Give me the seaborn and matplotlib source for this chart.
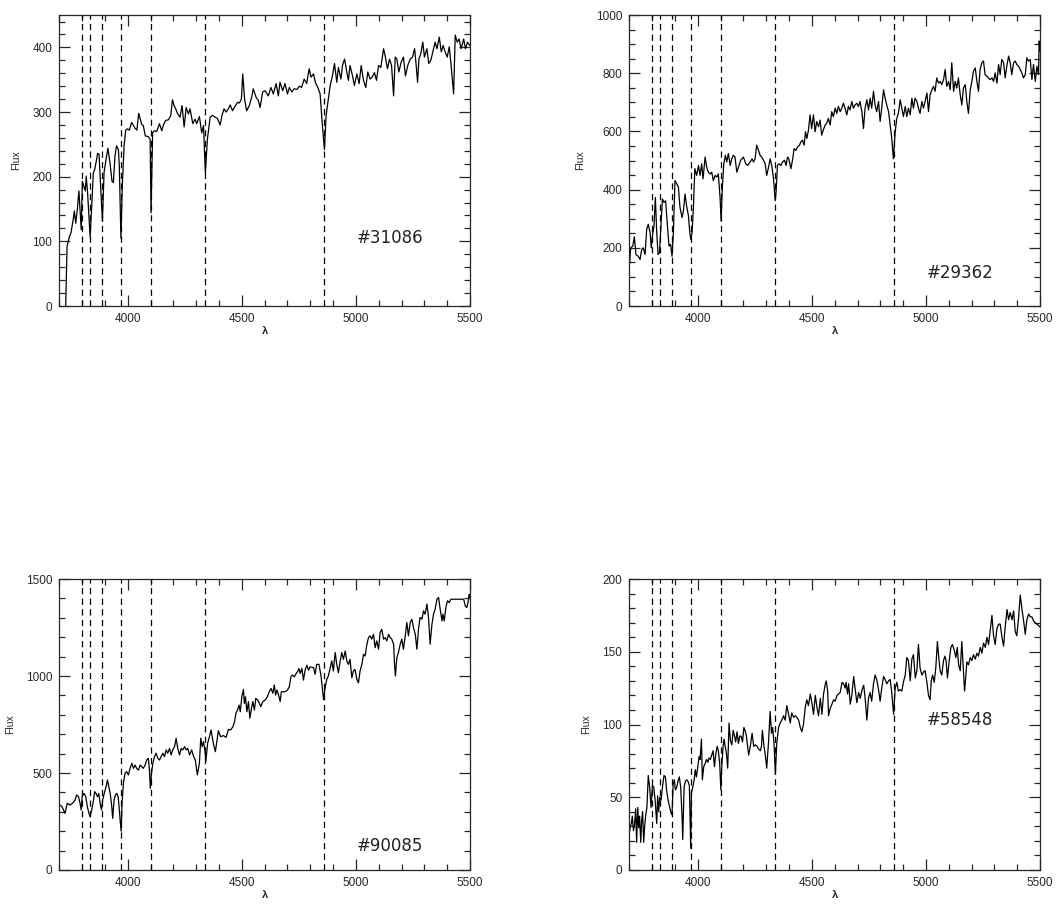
import numpy as np
import pandas as pd
import seaborn as sns
import matplotlib.pyplot as plt
from matplotlib.ticker import MultipleLocator

# Balmer lines marked in every panel
balmer = [3797.9, 3835.4, 3889.1, 3970.1, 4101.7, 4340.5, 4861.3]

# spectrum #31086
wave_31086 = [3728, 3734, 3744, 3751, 3761, 3766, 3772, 3779, 3786, 3791, 3796, 3801, 3808, 3814, 3818,
              3824, 3830, 3835, 3842, 3849, 3855, 3861, 3868, 3874, 3881, 3889, 3896, 3905, 3913, 3922,
              3931, 3937, 3944, 3951, 3959, 3963, 3970, 3976, 3984, 3991, 3999, 4007, 4017, 4032, 4040,
              4048, 4061, 4068, 4077, 4090, 4098, 4102, 4109, 4117, 4127, 4139, 4149, 4156, 4166, 4178,
              4188, 4196, 4203, 4210, 4219, 4229, 4238, 4247, 4256, 4266, 4273, 4285, 4295, 4302, 4314,
              4324, 4332, 4340, 4349, 4361, 4371, 4383, 4393, 4405, 4413, 4422, 4431, 4441, 4449, 4459,
              4470, 4481, 4489, 4498, 4504, 4512, 4521, 4533, 4543, 4550, 4562, 4572, 4580, 4591, 4602,
              4616, 4627, 4638, 4650, 4660, 4667, 4679, 4689, 4700, 4708, 4719, 4729, 4741, 4752, 4762,
              4773, 4784, 4795, 4803, 4814, 4822, 4833, 4843, 4853, 4862, 4869, 4879, 4887, 4897, 4906,
              4916, 4923, 4934, 4941, 4950, 4960, 4967, 4974, 4985, 4993, 5004, 5014, 5023, 5033, 5043,
              5052, 5062, 5071, 5081, 5090, 5099, 5109, 5121, 5129, 5138, 5147, 5156, 5165, 5172, 5179,
              5188, 5198, 5208, 5217, 5227, 5238, 5248, 5257, 5264, 5270, 5276, 5284, 5293, 5300, 5311,
              5319, 5328, 5337, 5347, 5355, 5365, 5374, 5382, 5391, 5400, 5409, 5417, 5428, 5435, 5444,
              5452, 5461, 5472, 5480, 5489, 5499]
flux_31086 = [0, 92, 107, 113, 134, 147, 128, 149, 178, 149, 118, 193, 185, 178, 201,
              175, 139, 107, 154, 206, 211, 222, 236, 235, 185, 131, 206, 227, 244, 222,
              193, 191, 232, 248, 242, 217, 105, 185, 248, 272, 274, 272, 284, 275, 272,
              298, 281, 279, 263, 262, 258, 144, 268, 271, 270, 282, 271, 280, 287, 288,
              294, 319, 310, 305, 297, 292, 310, 277, 307, 297, 305, 282, 289, 282, 293,
              268, 279, 206, 258, 292, 295, 292, 290, 280, 295, 305, 300, 305, 311, 302,
              309, 315, 314, 320, 359, 320, 302, 310, 323, 336, 323, 318, 307, 331, 333,
              325, 338, 328, 344, 325, 346, 333, 344, 328, 338, 331, 336, 335, 340, 338,
              351, 344, 367, 354, 359, 346, 338, 328, 279, 242, 294, 320, 341, 356, 375,
              346, 369, 351, 372, 382, 362, 349, 372, 356, 341, 359, 344, 372, 349, 338,
              362, 351, 354, 361, 349, 372, 369, 398, 385, 367, 382, 372, 325, 385, 382,
              362, 377, 385, 356, 372, 382, 385, 398, 372, 346, 382, 390, 408, 385, 398,
              375, 380, 393, 408, 398, 416, 393, 403, 393, 385, 401, 372, 328, 419, 408,
              413, 398, 413, 398, 408, 403]

# spectrum #29362
wave_29362 = [3700, 3706, 3715, 3722, 3729, 3739, 3747, 3754, 3761, 3769, 3776, 3783, 3791, 3796, 3802,
              3808, 3814, 3820, 3826, 3832, 3837, 3845, 3852, 3859, 3867, 3874, 3881, 3887, 3893, 3900,
              3908, 3915, 3922, 3931, 3937, 3944, 3951, 3959, 3965, 3969, 3975, 3981, 3987, 3995, 4003,
              4010, 4017, 4023, 4032, 4039, 4046, 4054, 4061, 4068, 4076, 4083, 4090, 4098, 4102, 4108,
              4114, 4121, 4127, 4134, 4142, 4149, 4156, 4163, 4171, 4178, 4188, 4200, 4210, 4219, 4229,
              4238, 4244, 4251, 4258, 4266, 4273, 4280, 4288, 4295, 4302, 4310, 4317, 4324, 4332, 4339,
              4343, 4349, 4356, 4364, 4371, 4380, 4387, 4393, 4399, 4408, 4416, 4422, 4430, 4437, 4446,
              4451, 4459, 4466, 4472, 4478, 4485,
              4492, 4499, 4507, 4514, 4521, 4529, 4536, 4543, 4550, 4558, 4565, 4572, 4580, 4587, 4594,
              4602, 4609, 4616, 4624, 4631, 4638, 4645, 4653, 4660, 4667, 4675, 4682, 4689, 4697, 4704,
              4711, 4719, 4726, 4733, 4741, 4748, 4755, 4762, 4770, 4777, 4784, 4792, 4799, 4806, 4814,
              4821, 4828, 4836, 4843, 4850, 4857, 4865, 4872, 4879, 4887, 4894, 4901, 4909, 4916, 4923,
              4931, 4938, 4945, 4952, 4960, 4967, 4974, 4982, 4989, 4996, 5004, 5011, 5018, 5026, 5033,
              5040, 5047, 5055, 5062, 5069, 5077, 5084, 5091, 5099, 5106, 5113, 5121, 5128, 5135, 5142,
              5150, 5157, 5164, 5172, 5179, 5186, 5194, 5201, 5208, 5216, 5223, 5230, 5237, 5245, 5252,
              5259, 5267, 5274, 5281, 5289, 5296, 5303, 5311, 5318, 5325, 5332, 5340, 5347, 5354, 5362,
              5369, 5376, 5384, 5391, 5398, 5406, 5413, 5420, 5427, 5435, 5442, 5449, 5457, 5464, 5471,
              5479, 5486, 5493, 5496, 5500]
flux_29362 = [136, 200, 206, 238, 177, 171, 160, 194, 200, 177, 264, 281, 252, 200, 246,
              275, 373, 252, 177, 183, 252, 368, 356, 362, 275, 206, 212, 171, 252, 431,
              420, 408, 339, 304, 327, 385, 344, 310, 252, 229, 252, 344, 472, 449, 483,
              449, 489, 437, 512, 477, 460, 454, 460, 431, 449, 443, 454, 368, 292, 414,
              489, 518, 495, 524, 483, 506, 518, 512, 460, 477, 501, 512, 489, 483, 495,
              506, 495, 506, 553, 535, 518, 512, 501, 489, 449, 477, 506, 483, 437, 362,
              391, 483, 489, 483, 495, 501, 483, 512, 506, 472, 506, 541, 535, 547, 553,
              564, 570, 553, 599, 576, 605,
              657, 610, 657, 599, 634, 616, 639, 587, 605, 622, 628, 645, 622, 668, 651,
              680, 662, 686, 668, 680, 697, 680, 657, 686, 674, 703, 680, 691, 697, 686,
              703, 668, 610, 680, 709, 674, 714, 680, 738, 691, 668, 703, 634, 680, 743,
              714, 691, 668, 622, 576, 506, 599, 645, 662, 709, 680, 651, 686, 651, 680,
              657, 714, 680, 714, 703, 680, 662, 703, 680, 703, 732, 668, 726, 743, 755,
              738, 784, 766, 772, 761, 778, 813, 755, 772, 743, 836, 738, 772, 749, 784,
              726, 691, 749, 761, 703, 662, 743, 772, 807, 818, 772, 738, 813, 836, 842,
              795, 790, 784, 778, 784, 772, 801, 766, 830, 795, 847, 836, 784, 824, 859,
              836, 795, 836, 842, 830, 824, 813, 801, 784, 795, 853, 842, 847, 778, 830,
              772, 824, 795, 911, 876]

# spectrum #90085
wave_90085 = [3703, 3712, 3725, 3735, 3747, 3758, 3769, 3776, 3784, 3791, 3796, 3800, 3808, 3816, 3823,
              3830, 3835, 3842, 3850, 3855, 3861, 3867, 3873, 3879, 3885, 3890, 3897, 3905, 3911, 3917,
              3923, 3930, 3934, 3940, 3946, 3952, 3958, 3962, 3966, 3971, 3975, 3981, 3988, 3995, 4003,
              4010, 4018, 4025, 4032, 4039, 4047, 4054, 4061, 4068, 4076, 4083, 4090, 4095, 4099, 4104,
              4110, 4117, 4124, 4132, 4139, 4146, 4154, 4161, 4168, 4175, 4183, 4190, 4197, 4205, 4212,
              4219, 4227, 4234, 4241, 4249, 4256, 4263, 4271, 4280, 4289, 4296, 4305, 4314, 4320, 4326,
              4332, 4338, 4342, 4350, 4358, 4365, 4375, 4384, 4390, 4397, 4407, 4419, 4431, 4441, 4451,
              4461, 4468, 4474, 4481, 4488, 4493, 4500, 4507, 4511, 4516, 4522, 4529, 4535, 4541, 4548,
              4555, 4561, 4570, 4577, 4583, 4592, 4602, 4612, 4620, 4628, 4636, 4642, 4648, 4654, 4661,
              4668, 4673, 4680, 4690, 4700, 4708, 4715, 4722, 4730, 4738, 4744, 4750, 4756, 4763, 4770,
              4777, 4785, 4792, 4799, 4814, 4821, 4828, 4838, 4847, 4858, 4865, 4872, 4879, 4887, 4894,
              4901, 4909, 4916, 4923, 4931, 4938, 4945, 4953, 4960, 4967, 4974, 4982, 4989, 4996, 5004,
              5011, 5018, 5026, 5033, 5040, 5048, 5055, 5062, 5069, 5077, 5084, 5091, 5099, 5106, 5113,
              5121, 5128, 5135, 5143, 5150, 5157, 5165, 5169, 5173, 5179, 5186, 5194, 5201, 5208, 5216,
              5223, 5230, 5238, 5245, 5252, 5260, 5267, 5274, 5281, 5289, 5296, 5303, 5311, 5318, 5325,
              5333, 5340, 5347, 5355, 5362, 5369, 5377, 5381, 5387, 5394, 5401, 5409, 5416, 5423, 5435,
              5450, 5464, 5472, 5479, 5486, 5491, 5496, 5500]
flux_90085 = [335, 326, 292, 344, 335, 344, 361, 387, 378, 344, 309, 378, 395, 378, 326,
              292, 275, 309, 361, 404, 395, 378, 395, 344, 309, 361, 395, 429, 464, 429,
              395, 326, 266, 361, 387, 395, 378, 326, 266, 200, 344, 447, 498, 507, 490,
              524, 550, 524, 541, 524, 515, 541, 533, 524, 541, 567, 576, 515, 421, 498,
              550, 584, 602, 576, 567, 584, 602, 584, 619, 602, 627, 593, 619, 636, 679,
              627, 593, 627, 619, 636, 619, 627, 593, 619, 584, 567, 490, 551, 680, 636,
              661, 619, 558, 653, 687, 722, 653, 610, 661, 718, 687, 693, 684, 725, 722,
              739, 764, 808, 825, 850, 816, 893, 931, 859, 893, 816, 868, 782, 825, 868,
              825, 885, 876, 859, 842, 868, 876, 893, 919, 936, 911, 954, 902, 928, 902,
              868, 919, 919, 919, 928, 945, 996, 1005, 996, 1013, 1022, 1039, 1013, 1039, 979,
              1030, 1056, 1030, 1047, 1043, 1009, 1060, 1060, 1000, 879, 940, 983, 1000, 1043, 1078,
              1026, 1121, 1060, 1017, 1078, 1121, 1086, 1129, 1078, 1060, 1086, 991, 1026, 1034, 983,
              965, 1026, 1060, 1112, 1103, 1164, 1198, 1207, 1190, 1215, 1146, 1181, 1138, 1224, 1241,
              1190, 1198, 1181, 1215, 1198, 1190, 1164, 1060, 1000, 1095, 1121, 1164, 1190, 1138, 1207,
              1276, 1207, 1276, 1293, 1250, 1215, 1138, 1241, 1302, 1293, 1336, 1319, 1371, 1302, 1164,
              1267, 1319, 1345, 1396, 1405, 1345, 1284, 1319, 1284, 1353, 1388, 1379, 1396, 1396, 1396,
              1396, 1396, 1396, 1362, 1353, 1379, 1422, 1405]

# spectrum #58548
wave_58548 = [3700, 3704, 3709, 3713, 3718, 3722, 3728, 3732, 3737, 3741, 3745, 3750, 3754, 3758, 3763,
              3767, 3772, 3777, 3783, 3789, 3795, 3801, 3807, 3813, 3820, 3824, 3829, 3833, 3839, 3845,
              3852, 3858, 3864, 3871, 3877, 3883, 3887, 3892, 3897, 3902, 3908, 3913, 3919, 3925, 3931,
              3934, 3940, 3946, 3951, 3957, 3963, 3969, 3972, 3978, 3984, 3989, 3994, 4000, 4006, 4010,
              4016, 4020, 4026, 4032, 4038, 4044, 4049, 4055, 4061, 4067, 4073, 4079, 4085, 4090, 4096,
              4101, 4105, 4111, 4115, 4120, 4125, 4131, 4137, 4143, 4149, 4155, 4161, 4166, 4172, 4178,
              4184, 4190, 4196, 4202, 4207, 4213, 4223, 4230, 4238, 4245, 4252, 4260, 4267, 4274, 4279,
              4283, 4290, 4296, 4302, 4310, 4317, 4323, 4328, 4334, 4340, 4346, 4354, 4361, 4368, 4376,
              4383, 4390, 4398, 4405, 4412, 4420, 4427, 4434, 4442, 4449, 4456, 4463, 4471, 4478, 4485,
              4493, 4500, 4507, 4515, 4522, 4529, 4537, 4544, 4551, 4559, 4563, 4569, 4573, 4580, 4588,
              4595, 4602, 4610, 4617, 4624, 4632, 4639, 4646, 4650, 4656, 4661, 4668, 4675, 4683, 4690,
              4697, 4705, 4712, 4720, 4727, 4734, 4741, 4748, 4755, 4762, 4770, 4777, 4784, 4792, 4799,
              4806, 4814, 4821, 4828, 4836, 4843, 4850, 4858, 4865, 4872, 4879, 4887, 4894, 4901, 4909,
              4916, 4923, 4931, 4938, 4945, 4953, 4960, 4967, 4974, 4982, 4989, 4996, 5004, 5011, 5018,
              5023, 5029, 5036, 5043, 5050, 5056, 5062, 5069, 5077, 5083, 5088, 5094, 5102, 5109, 5116,
              5124, 5131, 5137, 5143, 5150, 5157, 5165, 5169, 5175, 5179, 5186, 5194, 5201, 5208, 5216,
              5223, 5230, 5238, 5245, 5252, 5260, 5267, 5274, 5281, 5289, 5296, 5303, 5311, 5318, 5325,
              5333, 5340, 5347, 5355, 5362, 5369, 5377, 5384, 5391, 5398, 5406, 5413, 5420, 5428, 5435,
              5442, 5450, 5457, 5464, 5472, 5486, 5500]
flux_58548 = [25, 30, 32, 37, 27, 30, 42, 19, 43, 29, 37, 19, 34, 40, 19,
              30, 38, 43, 65, 57, 43, 58, 57, 48, 32, 51, 40, 50, 48, 57,
              65, 64, 54, 47, 43, 39, 38, 59, 62, 55, 57, 61, 64, 57, 37,
              21, 57, 61, 62, 61, 58, 15, 53, 57, 62, 69, 64, 71, 78, 76,
              90, 62, 71, 73, 76, 74, 77, 76, 79, 82, 71, 80, 85, 82, 73,
              55, 71, 85, 90, 85, 81, 70, 101, 89, 86, 96, 92, 88, 95, 87,
              92, 92, 88, 98, 96, 92, 79, 85, 94, 85, 86, 85, 83, 82, 85,
              96, 85, 79, 70, 88, 109, 94, 98, 87, 66, 87, 98, 101, 103, 106,
              103, 113, 107, 101, 108, 105, 106, 105, 103, 98, 95, 100, 112, 117, 113,
              121, 115, 107, 120, 112, 106, 118, 107, 121, 128, 130, 123, 106, 111, 114,
              117, 116, 120, 121, 122, 129, 128, 125, 129, 121, 128, 114, 120, 133, 124,
              115, 122, 118, 124, 127, 117, 103, 118, 122, 116, 128, 134, 131, 124, 116,
              125, 133, 131, 128, 130, 131, 122, 107, 125, 129, 123, 124, 123, 129, 134,
              146, 144, 130, 145, 148, 132, 137, 155, 139, 134, 136, 137, 129, 120, 117,
              130, 134, 129, 139, 157, 146, 137, 134, 144, 147, 144, 132, 144, 153, 155,
              151, 146, 153, 141, 137, 157, 134, 123, 134, 143, 141, 146, 144, 148, 145,
              149, 147, 153, 149, 156, 153, 160, 155, 164, 175, 161, 155, 166, 169, 169,
              160, 154, 167, 179, 172, 177, 172, 178, 164, 161, 174, 189, 180, 171, 162,
              172, 176, 174, 174, 171, 169, 167]

panels = [
    ("#31086", wave_31086, flux_31086, 450, 100, 20, 105),
    ("#29362", wave_29362, flux_29362, 1000, 200, 50, 114),
    ("#90085", wave_90085, flux_90085, 1500, 500, 100, 125),
    ("#58548", wave_58548, flux_58548, 200, 50, 10, 103),
]

sns.set_style("ticks")
plt.rcParams["font.family"] = ["Liberation Sans", "DejaVu Sans"]

fig = plt.figure(figsize=(10.57, 9.07), dpi=100)

positions = [
    [0.0561, 0.6626, 0.3886, 0.3208],
    [0.5954, 0.6626, 0.3886, 0.3208],
    [0.0561, 0.0408, 0.3886, 0.3208],
    [0.5954, 0.0408, 0.3886, 0.3208],
]

for pos, (name, wave, flux, ytop, ymaj, ymin, ytext) in zip(positions, panels):
    ax = fig.add_axes(pos)

    for line in balmer:
        ax.axvline(line, color="black", lw=0.9, dashes=(5, 3.5))

    df = pd.DataFrame({"wave": wave, "flux": flux})
    sns.lineplot(data=df, x="wave", y="flux", ax=ax, color="black",
                 lw=0.9, sort=False, estimator=None)

    ax.set_xlim(3700, 5500)
    ax.set_ylim(0, ytop)

    ax.xaxis.set_major_locator(MultipleLocator(500))
    ax.xaxis.set_minor_locator(MultipleLocator(100))
    ax.yaxis.set_major_locator(MultipleLocator(ymaj))
    ax.yaxis.set_minor_locator(MultipleLocator(ymin))

    ax.tick_params(which="both", direction="in", top=True, right=True,
                   width=0.9, labelsize=8.5, pad=5)
    ax.tick_params(which="major", length=8)
    ax.tick_params(which="minor", length=4)

    for spine in ax.spines.values():
        spine.set_linewidth(0.9)
        spine.set_visible(True)

    ax.set_xlabel("λ", fontsize=8, fontweight="bold", labelpad=1)
    ax.set_ylabel("Flux", fontsize=7.5, labelpad=8)

    ax.text(5004, ytext, name, fontsize=12, ha="left", va="center",
            family="DejaVu Sans", color="#222222")

fig.savefig("out.png", dpi=100)
